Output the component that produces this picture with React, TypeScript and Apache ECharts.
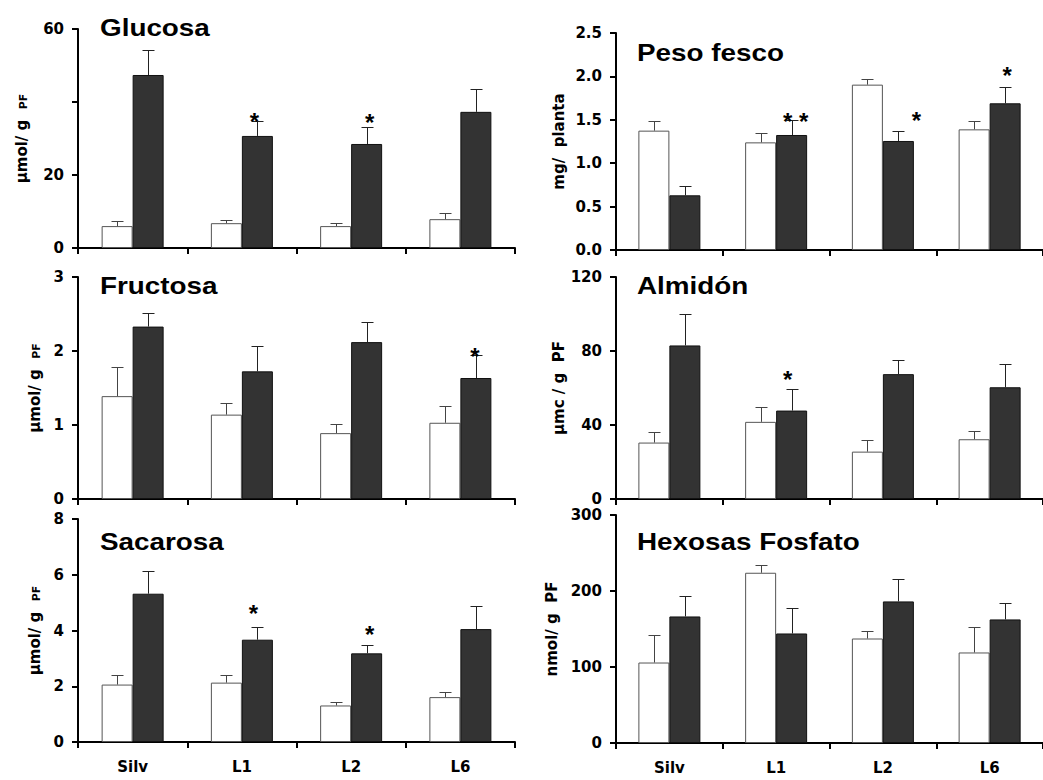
import React, { useEffect, useRef } from "react";
import * as echarts from "echarts";

// ---------- data ----------
const categories = ["Silv", "L1", "L2", "L6"];

const glucosaWhite = [6.0, 6.8, 6.0, 7.9];
const glucosaWhiteErr = [1.4, 0.9, 0.8, 1.6];
const glucosaDark = [47.4, 30.7, 28.5, 37.3];
const glucosaDarkErr = [6.8, 4.2, 4.7, 6.3];
const glucosaStars = [null, 36.0, 35.8, null];
const glucosaStarText = ["", "*", "*", ""];

const pesoWhite = [1.375, 1.24, 1.905, 1.39];
const pesoWhiteErr = [0.115, 0.11, 0.065, 0.1];
const pesoDark = [0.63, 1.325, 1.256, 1.69];
const pesoDarkErr = [0.11, 0.175, 0.115, 0.19];
const pesoStars = [null, 1.535, 1.544, 2.07];
const pesoStarText = ["", "* *", "*", "*"];

const fructosaWhite = [1.39, 1.14, 0.89, 1.03];
const fructosaWhiteErr = [0.4, 0.16, 0.12, 0.23];
const fructosaDark = [2.33, 1.725, 2.12, 1.635];
const fructosaDarkErr = [0.19, 0.345, 0.27, 0.305];
const fructosaStars = [null, null, null, 1.99];
const fructosaStarText = ["", "", "", "*"];

const almidonWhite = [30.5, 41.7, 25.6, 32.3];
const almidonWhiteErr = [5.6, 8.3, 6.2, 4.3];
const almidonDark = [83.0, 47.8, 67.5, 60.4];
const almidonDarkErr = [17.0, 11.6, 7.6, 12.5];
const almidonStars = [null, 67.1, null, null];
const almidonStarText = ["", "*", "", ""];

const sacarosaWhite = [2.06, 2.13, 1.31, 1.61];
const sacarosaWhiteErr = [0.34, 0.27, 0.13, 0.2];
const sacarosaDark = [5.32, 3.67, 3.18, 4.05];
const sacarosaDarkErr = [0.8, 0.46, 0.29, 0.83];
const sacarosaStars = [null, 4.79, 4.05, null];
const sacarosaStarText = ["", "*", "*", ""];

const hexosasWhite = [105.9, 224, 137.5, 119.1];
const hexosasWhiteErr = [36.4, 10, 10.5, 33.7];
const hexosasDark = [166.5, 144.1, 186.3, 162.6];
const hexosasDarkErr = [27.2, 33.4, 29, 21.9];
const hexosasStars = [null, null, null, null];
const hexosasStarText = ["", "", "", ""];

// ---------- styles / layout ----------
const FONT = '"DejaVu Sans", sans-serif';
const TITLE_FONT = '"Liberation Sans", Arial, sans-serif';
const BAR_W = 31;

type Panel = {
  title: string;
  titlePos: [number, number];
  grid: { left: number; top: number; width: number; height: number };
  max: number;
  interval: number;
  fmt: (v: number) => string;
  name: string;
  nameGap: number;
  white: number[];
  whiteErr: number[];
  dark: number[];
  darkErr: number[];
  stars: (number | null)[];
  starText: string[];
  starDx: number[];
  showX: boolean;
};

const LEFT_X = 78;
const RIGHT_X = 616;
const PW = 437;

const panels: Panel[] = [
  {
    title: "Glucosa", titlePos: [100, 28],
    grid: { left: LEFT_X, top: 29, width: PW, height: 219 },
    max: 60, interval: 20, fmt: (v) => (v === 40 ? "" : String(v)),
    name: "{a|µmol/ g}  {b|PF}", nameGap: 49,
    white: glucosaWhite, whiteErr: glucosaWhiteErr, dark: glucosaDark, darkErr: glucosaDarkErr,
    stars: glucosaStars, starText: glucosaStarText, starDx: [0, -3, 3, 0], showX: false,
  },
  {
    title: "Peso fesco", titlePos: [637, 53],
    grid: { left: RIGHT_X, top: 33, width: PW, height: 217 },
    max: 2.5, interval: 0.5, fmt: (v) => v.toFixed(1),
    name: "{a|mg/  planta}", nameGap: 50,
    white: pesoWhite, whiteErr: pesoWhiteErr, dark: pesoDark, darkErr: pesoDarkErr,
    stars: pesoStars, starText: pesoStarText, starDx: [0, 4, 18, 2], showX: false,
  },
  {
    title: "Fructosa", titlePos: [100, 286],
    grid: { left: LEFT_X, top: 277, width: PW, height: 222 },
    max: 3, interval: 1, fmt: (v) => String(v),
    name: "{a|µmol/ g}  {b|PF}", nameGap: 36,
    white: fructosaWhite, whiteErr: fructosaWhiteErr, dark: fructosaDark, darkErr: fructosaDarkErr,
    stars: fructosaStars, starText: fructosaStarText, starDx: [0, 0, 0, -1], showX: false,
  },
  {
    title: "Almidón", titlePos: [637, 286],
    grid: { left: RIGHT_X, top: 277, width: PW, height: 222 },
    max: 120, interval: 40, fmt: (v) => String(v),
    name: "{a|µmc / g  PF}", nameGap: 49,
    white: almidonWhite, whiteErr: almidonWhiteErr, dark: almidonDark, darkErr: almidonDarkErr,
    stars: almidonStars, starText: almidonStarText, starDx: [0, -4, 0, 0], showX: false,
  },
  {
    title: "Sacarosa", titlePos: [100, 542],
    grid: { left: LEFT_X, top: 519, width: PW, height: 223 },
    max: 8, interval: 2, fmt: (v) => String(v),
    name: "{a|µmol/ g}  {b|PF}", nameGap: 36,
    white: sacarosaWhite, whiteErr: sacarosaWhiteErr, dark: sacarosaDark, darkErr: sacarosaDarkErr,
    stars: sacarosaStars, starText: sacarosaStarText, starDx: [0, -4, 3, 0], showX: true,
  },
  {
    title: "Hexosas Fosfato", titlePos: [637, 542],
    grid: { left: RIGHT_X, top: 515, width: PW, height: 228 },
    max: 300, interval: 100, fmt: (v) => String(v),
    name: "{a|nmol/ g  PF}", nameGap: 57,
    white: hexosasWhite, whiteErr: hexosasWhiteErr, dark: hexosasDark, darkErr: hexosasDarkErr,
    stars: hexosasStars, starText: hexosasStarText, starDx: [0, 0, 0, 0], showX: true,
  },
];

function errSeries(k: number, vals: number[], errs: number[], dx: number, color: string) {
  return {
    type: "custom",
    xAxisIndex: k,
    yAxisIndex: k,
    z: 5,
    silent: true,
    encode: { x: 0, y: 1 },
    data: vals.map((v, i) => [i, v, errs[i]]),
    renderItem: (params: any, api: any) => {
      const i = api.value(0);
      const v = api.value(1);
      const e = api.value(2);
      const base = api.coord([i, v]);
      const top = api.coord([i, v + e]);
      const x = Math.round(base[0] + dx) + 0.5;
      const yt = Math.round(top[1]) + 0.5;
      return {
        type: "group",
        children: [
          { type: "line", shape: { x1: x, y1: base[1], x2: x, y2: yt }, style: { stroke: color, lineWidth: 1 } },
          { type: "line", shape: { x1: x - 6, y1: yt, x2: x + 6, y2: yt }, style: { stroke: color, lineWidth: 1 } },
        ],
      };
    },
  };
}

function starSeries(k: number, p: Panel) {
  const data: any[] = [];
  p.stars.forEach((s, i) => {
    if (s != null) data.push([i, s, p.starText[i], p.starDx[i]]);
  });
  return {
    type: "custom",
    xAxisIndex: k,
    yAxisIndex: k,
    z: 6,
    silent: true,
    encode: { x: 0, y: 1 },
    dimensions: ["x", "y", { name: "t", type: "ordinal" }, "dx"],
    data,
    renderItem: (params: any, api: any) => {
      const i = api.value(0);
      const s = api.value(1);
      const idx = params.dataIndex;
      const t = data[idx][2];
      const dx = data[idx][3];
      const pt = api.coord([i, s]);
      return {
        type: "text",
        x: pt[0] + BAR_W / 2 + dx,
        y: pt[1] + 5,
        style: {
          text: t,
          font: `bold 24px ${TITLE_FONT}`,
          fill: "#000",
          align: "center",
          verticalAlign: "middle",
          textAlign: "center",
          textVerticalAlign: "middle",
        },
      };
    },
  };
}

function buildOption() {
  const grid: any[] = [];
  const xAxis: any[] = [];
  const yAxis: any[] = [];
  const series: any[] = [];
  const graphic: any[] = [];

  panels.forEach((p, k) => {
    grid.push({ ...p.grid, containLabel: false });
    xAxis.push({
      type: "category",
      gridIndex: k,
      data: categories,
      boundaryGap: true,
      axisLine: { show: true, lineStyle: { color: "#000", width: 2 } },
      axisTick: { show: true, length: 6, lineStyle: { color: "#000", width: 2 } },
      axisLabel: {
        show: p.showX,
        margin: 17,
        color: "#000",
        fontFamily: FONT,
        fontWeight: "bold",
        fontSize: 15,
      },
      splitLine: { show: false },
    });
    yAxis.push({
      type: "value",
      gridIndex: k,
      min: 0,
      max: p.max,
      interval: p.interval,
      name: p.name,
      nameLocation: "middle",
      nameGap: p.nameGap,
      nameTextStyle: {
        color: "#000",
        fontFamily: FONT,
        fontWeight: "bold",
        fontSize: 15,
        rich: {
          a: { color: "#000", fontFamily: FONT, fontWeight: "bold", fontSize: 15, verticalAlign: "bottom", lineHeight: 18 },
          b: { color: "#000", fontFamily: FONT, fontWeight: "bold", fontSize: 11, verticalAlign: "bottom", lineHeight: 15 },
        },
      },
      axisLine: { show: true, lineStyle: { color: "#000", width: 2 } },
      axisTick: { show: true, length: 6, lineStyle: { color: "#000", width: 2 } },
      axisLabel: {
        margin: 14,
        color: "#000",
        fontFamily: FONT,
        fontWeight: "bold",
        fontSize: 15,
        formatter: p.fmt,
      },
      splitLine: { show: false },
    });
    series.push({
      type: "bar",
      xAxisIndex: k,
      yAxisIndex: k,
      data: p.white,
      barWidth: BAR_W,
      barGap: "0%",
      itemStyle: { color: "#ffffff", borderColor: "#555", borderWidth: 1 },
      silent: true,
    });
    series.push({
      type: "bar",
      xAxisIndex: k,
      yAxisIndex: k,
      data: p.dark,
      barWidth: BAR_W,
      barGap: "0%",
      itemStyle: { color: "#333333", borderColor: "#111", borderWidth: 1 },
      silent: true,
    });
    series.push(errSeries(k, p.white, p.whiteErr, -BAR_W / 2, "#444"));
    series.push(errSeries(k, p.dark, p.darkErr, BAR_W / 2, "#222"));
    series.push(starSeries(k, p));

    graphic.push({
      type: "text",
      x: p.titlePos[0],
      y: p.titlePos[1],
      scaleX: 1.16,
      style: {
        text: p.title,
        font: `bold 24px ${TITLE_FONT}`,
        fill: "#000",
        textAlign: "left",
        textVerticalAlign: "middle",
        align: "left",
        verticalAlign: "middle",
      },
    });
  });

  return {
    animation: false,
    backgroundColor: "#ffffff",
    grid,
    xAxis,
    yAxis,
    series,
    graphic,
  };
}

export default function App() {
  const ref = useRef<HTMLDivElement>(null);
  useEffect(() => {
    if (!ref.current) return;
    const chart = echarts.init(ref.current, null, { renderer: "svg" });
    chart.setOption(buildOption() as any);
    return () => chart.dispose();
  }, []);
  return (
    <div style={{ position: "absolute", left: 0, top: 0, width: 1043, height: 780, overflow: "hidden", background: "#fff" }}>
      <div ref={ref} style={{ width: 1043, height: 780 }} />
    </div>
  );
}
